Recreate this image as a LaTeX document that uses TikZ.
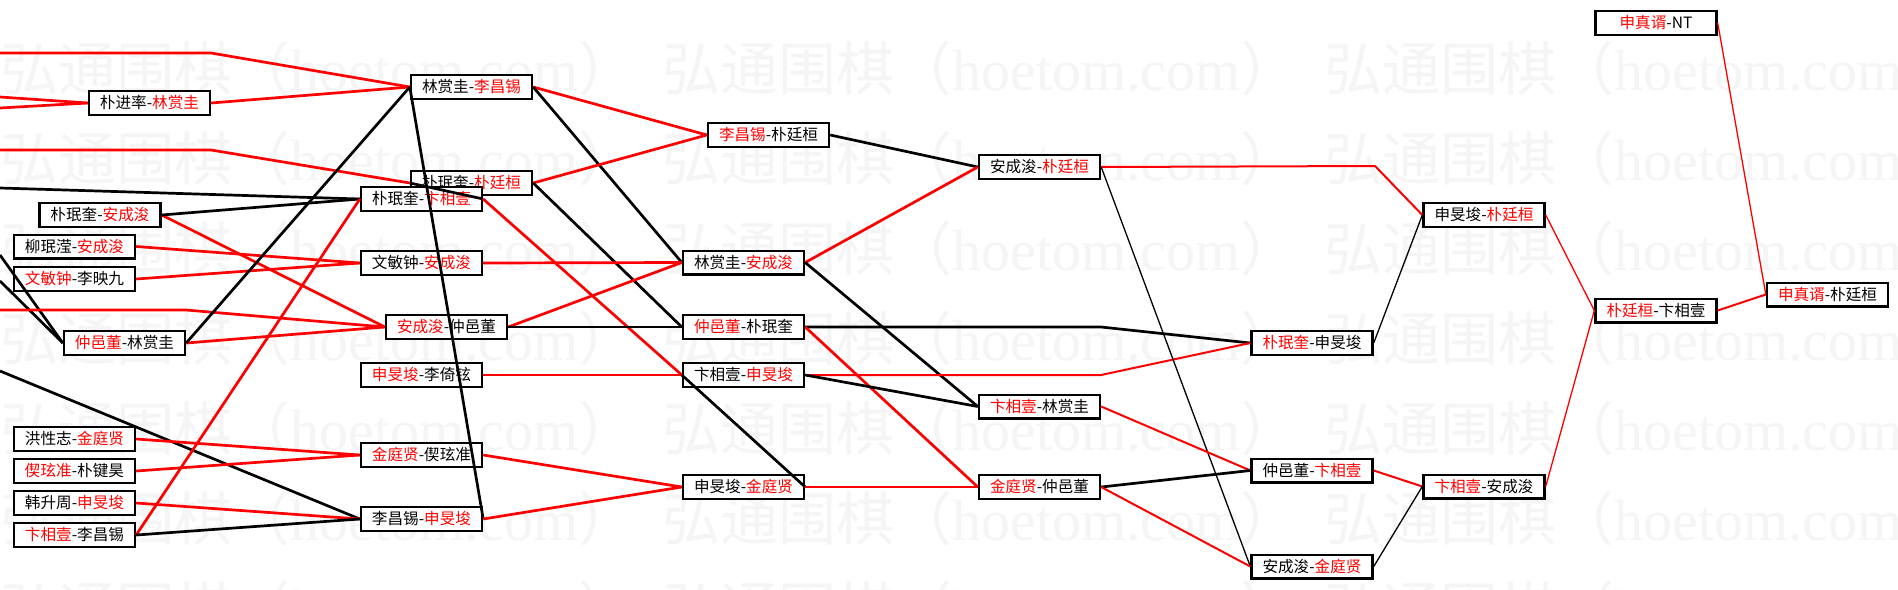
\documentclass[tikz,border=0pt]{standalone}
\usepackage{fontspec}
\setmainfont{Noto Sans CJK SC}
\newfontfamily\wmlatin{Liberation Serif}
\newcommand{\win}[1]{\textcolor{red}{#1}}
\tikzset{
  game/.style={draw, line width=1.2pt, fill=white, minimum width=60.5pt,
    minimum height=11.8pt, inner sep=0pt, font=\fontsize{7.8pt}{8pt}\selectfont},
  won/.style={draw=red, line width=1.35pt},
  lost/.style={draw=black, line width=1.35pt},
  midweight/.style={line width=1pt},
  lightweight/.style={line width=0.65pt},
  watermark/.style={anchor=west, inner sep=0pt, text=black!4,
    font=\fontsize{29pt}{29pt}\selectfont}
}
\begin{document}
\begin{tikzpicture}[x=0.5pt, y=-0.5pt]
  \fill[white] (0,0) rectangle (1898,589);
  \useasboundingbox (0,0) rectangle (1898,589);
  \begin{scope}
    \clip (0,0) rectangle (1898,589);
    \foreach \r in {0,...,6}
      \foreach \c in {0,1,2}
        \node[watermark] (wm-\r-\c) at (662*\c, 68+90*\r) {弘通围棋（{\wmlatin hoetom.com}）};
  \end{scope}

  \node[game] (pjs) at (149.5,103) {朴进率-\win{林赏圭}};
  \node[game] (pma) at (100,215) {朴珉奎-\win{安成浚}};
  \node[game] (lma) at (74.5,246.5) {柳珉滢-\win{安成浚}};
  \node[game] (wml) at (74.5,279) {\win{文敏钟}-李映九};
  \node[game] (zyl) at (124.5,343) {\win{仲邑董}-林赏圭};
  \node[game] (hxz) at (74.5,439) {洪性志-\win{金庭贤}};
  \node[game] (xpj) at (74.5,471) {\win{偰玹准}-朴键昊};
  \node[game] (hsz) at (74.5,503) {韩升周-\win{申旻埈}};
  \node[game] (bli) at (74.5,535) {\win{卞相壹}-李昌锡};

  \node[game] (lsl) at (471.5,87) {林赏圭-\win{李昌锡}};
  \node[game] (pmt) at (471.5,183) {朴珉奎-\win{朴廷桓}};
  \node[game] (pmb) at (421.5,199) {朴珉奎-\win{卞相壹}};
  \node[game] (wma) at (421.5,263) {文敏钟-\win{安成浚}};
  \node[game] (acz) at (446.5,327) {\win{安成浚}-仲邑董};
  \node[game] (sli) at (421.5,375) {\win{申旻埈}-李倚铉};
  \node[game] (jxz) at (421.5,455) {\win{金庭贤}-偰玹准};
  \node[game] (lcs) at (421.5,519) {李昌锡-\win{申旻埈}};

  \node[game] (lcp) at (768.5,135) {\win{李昌锡}-朴廷桓};
  \node[game] (lsa) at (743.5,262.5) {林赏圭-\win{安成浚}};
  \node[game] (zpm) at (743.5,327) {\win{仲邑董}-朴珉奎};
  \node[game] (bss) at (743.5,375) {卞相壹-\win{申旻埈}};
  \node[game] (sjx) at (743.5,487) {申旻埈-\win{金庭贤}};

  \node[game] (acp) at (1039.5,167) {安成浚-\win{朴廷桓}};
  \node[game] (bsl) at (1039.5,406.5) {\win{卞相壹}-林赏圭};
  \node[game] (jzy) at (1039.5,487) {\win{金庭贤}-仲邑董};

  \node[game] (pms) at (1312,343) {\win{朴珉奎}-申旻埈};
  \node[game] (zyb) at (1312,470.5) {仲邑董-\win{卞相壹}};
  \node[game] (acj) at (1312,566.5) {安成浚-\win{金庭贤}};

  \node[game] (spt) at (1484,215) {申旻埈-\win{朴廷桓}};
  \node[game] (bsa) at (1484,486.5) {\win{卞相壹}-安成浚};

  \node[game] (szn) at (1656,23) {\win{申真谞}-NT};
  \node[game] (ptb) at (1656,310.5) {\win{朴廷桓}-卞相壹};
  \node[game] (szp) at (1827.5,294.5) {\win{申真谞}-朴廷桓};

  \coordinate (in1) at (0,53);   \coordinate (k1) at (211,53);
  \coordinate (in2) at (0,97);   \coordinate (in3) at (0,108);
  \coordinate (in4) at (0,150);  \coordinate (k4) at (211,150);
  \coordinate (in5) at (0,188);
  \coordinate (in6) at (0,255);  \coordinate (in7) at (0,281);
  \coordinate (in8) at (0,310);  \coordinate (k8) at (186,310);
  \coordinate (in9) at (0,371);
  \coordinate (k10) at (1101,327);
  \coordinate (k11) at (1101,375);
  \coordinate (k12) at (1375,166);

  \draw[won] (in1) -- (k1) -- (lsl.west);
  \draw[won] (in2) -- (pjs.west);
  \draw[won] (in3) -- (pjs.west);
  \draw[won] (in4) -- (k4) -- (pmt.west);
  \draw[lost] (in5) -- (pmb.west);
  \draw[lost] (in6) -- (zyl.west);
  \draw[lost] (in7) -- (zyl.west);
  \draw[won] (in8) -- (k8) -- (acz.west);
  \draw[lost] (in9) -- (lcs.west);

  \draw[won] (pjs.east) -- (lsl.west);
  \draw[won] (pma.east) -- (acz.west);
  \draw[lost] (pma.east) -- (pmb.west);
  \draw[won] (lma.east) -- (wma.west);
  \draw[won] (wml.east) -- (wma.west);
  \draw[won] (zyl.east) -- (acz.west);
  \draw[lost] (zyl.east) -- (lsl.west);
  \draw[won] (hxz.east) -- (jxz.west);
  \draw[won] (xpj.east) -- (jxz.west);
  \draw[won] (hsz.east) -- (lcs.west);
  \draw[won] (bli.east) -- (pmb.west);
  \draw[lost] (bli.east) -- (lcs.west);

  \draw[won] (lsl.east) -- (lcp.west);
  \draw[lost] (lsl.east) -- (lsa.west);
  \draw[lost] (lsl.west) -- (lcs.east);
  \draw[won] (pmt.east) -- (lcp.west);
  \draw[lost] (pmt.east) -- (zpm.west);
  \draw[lost] (pmb.east) -- (pmt.west);
  \draw[won] (pmb.east) -- (bss.west);
  \draw[won] (wma.east) -- (lsa.west);
  \draw[won] (acz.east) -- (lsa.west);
  \draw[lost] (acz.east) -- (zpm.west);
  \draw[won] (sli.east) -- (bss.west);
  \draw[won] (jxz.east) -- (sjx.west);
  \draw[won] (lcs.east) -- (sjx.west);

  \draw[lost] (lcp.east) -- (acp.west);
  \draw[won] (lsa.east) -- (acp.west);
  \draw[lost] (lsa.east) -- (bsl.west);
  \draw[lost] (zpm.east) -- (k10) -- (pms.west);
  \draw[won] (zpm.east) -- (jzy.west);
  \draw[won, midweight] (bss.east) -- (k11) -- (pms.west);
  \draw[lost] (bss.east) -- (bsl.west);
  \draw[lost] (bss.west) -- (sjx.east);
  \draw[won] (sjx.east) -- (jzy.west);

  \draw[won, midweight] (acp.east) -- (k12) -- (spt.west);
  \draw[lost, lightweight] (acp.east) -- (acj.west);
  \draw[won, midweight] (bsl.east) -- (zyb.west);
  \draw[lost] (jzy.east) -- (zyb.west);
  \draw[won, midweight] (jzy.east) -- (acj.west);

  \draw[lost, lightweight] (pms.east) -- (spt.west);
  \draw[won, midweight] (zyb.east) -- (bsa.west);
  \draw[lost, lightweight] (acj.east) -- (bsa.west);

  \draw[won, lightweight] (spt.east) -- (ptb.west);
  \draw[won, lightweight] (bsa.east) -- (ptb.west);
  \draw[won, midweight] (ptb.east) -- (szp.west);
  \draw[won, lightweight] (szn.east) -- (szp.west);
\end{tikzpicture}
\end{document}
